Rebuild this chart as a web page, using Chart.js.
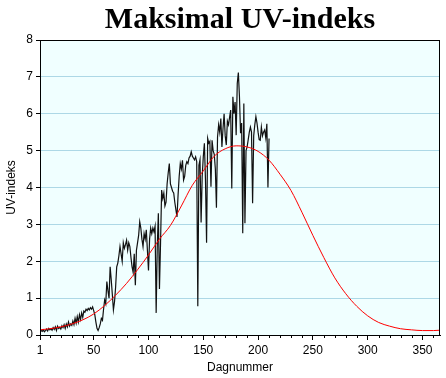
<!DOCTYPE html>
<html>
<head>
<meta charset="utf-8">
<script src="https://cdn.jsdelivr.net/npm/chart.js@4.4.0/dist/chart.umd.min.js"></script>
<style>
    body { margin: 0; background: #fff; }
    canvas { display: block; }
</style>
</head>
<body>
<canvas id="uvChart" width="446" height="378"></canvas>
<script>
// Målt maksimal UV-indeks, dag 1 til 210
var uvMaalt = [
    0.15, 0.12, 0.10, 0.14, 0.09, 0.12, 0.16, 0.11, 0.18, 0.14,
    0.17, 0.13, 0.20, 0.15, 0.22, 0.12, 0.24, 0.18, 0.21, 0.16,
    0.25, 0.20, 0.28, 0.18, 0.30, 0.22, 0.35, 0.24, 0.30, 0.26,
    0.38, 0.28, 0.45, 0.32, 0.50, 0.35, 0.55, 0.42, 0.60, 0.48,
    0.65, 0.62, 0.70, 0.66, 0.72, 0.68, 0.74, 0.70, 0.76, 0.66,
    0.55, 0.35, 0.18, 0.12, 0.20, 0.30, 0.45, 0.40, 0.70, 0.95,
    0.85, 1.45, 1.20, 1.00, 1.85, 1.50, 1.10, 0.68, 0.90, 1.30,
    1.85, 1.95, 2.15, 2.40, 2.20, 2.00, 2.50, 2.35, 2.45, 2.57,
    2.30, 2.50, 2.40, 2.10, 1.85, 1.70, 2.20, 1.35, 2.30, 2.50,
    2.70, 3.07, 2.90, 2.60, 2.40, 2.75, 2.60, 2.85, 2.30, 1.75,
    2.60, 2.90, 2.75, 2.90, 2.80, 2.95, 0.60, 2.40, 3.30, 1.25,
    2.50, 3.93, 3.70, 3.85, 3.50, 3.60, 4.10, 4.40, 4.65, 4.10,
    4.00, 3.90, 3.85, 3.60, 3.40, 3.20, 3.80, 4.30, 4.65, 4.50,
    4.74, 4.20, 4.30, 4.60, 4.70, 4.65, 4.80, 4.85, 4.97, 4.85,
    4.80, 4.75, 4.83, 4.70, 0.78, 4.60, 4.75, 3.05, 4.30, 4.83,
    5.20, 4.20, 2.50, 5.33, 5.20, 5.25, 4.02, 5.28, 5.00, 4.90,
    4.50, 3.45, 5.37, 5.70, 5.50, 5.87, 5.10, 5.60, 6.00, 5.40,
    5.15, 5.80, 5.70, 5.90, 6.10, 3.97, 6.46, 6.00, 6.32, 5.42,
    6.82, 7.12, 6.46, 5.47, 5.75, 2.76, 6.28, 3.03, 5.00, 5.10,
    5.30, 5.50, 5.64, 5.50, 3.57, 5.40, 5.70, 5.92, 5.75, 5.50,
    5.30, 5.28, 5.64, 5.40, 5.50, 5.56, 5.35, 5.73, 4.00, 5.33
];

// Modellkurve (rød), avlest omtrent hver tiende dag
var kurveDager = [1, 10, 20, 30, 40, 50, 60, 70, 80, 90, 100, 110, 120, 130, 140, 150, 160, 170, 180,
    190, 200, 210, 220, 230, 240, 250, 260, 270, 280, 290, 300, 310, 320, 330, 340, 350, 360, 366];
var kurveUV = [0.14, 0.17, 0.22, 0.30, 0.41, 0.57, 0.80, 1.08, 1.40, 1.77, 2.17, 2.60, 2.97, 3.50, 4.06, 4.45, 4.85, 5.05, 5.13,
    5.10, 4.98, 4.74, 4.36, 3.92, 3.33, 2.70, 2.10, 1.55, 1.12, 0.78, 0.52, 0.34, 0.24, 0.17, 0.14, 0.12, 0.12, 0.13];

var xTicks = [1, 50, 100, 150, 200, 250, 300, 350];

document.addEventListener('DOMContentLoaded', function () {
    var ctx = document.getElementById('uvChart').getContext('2d');

    var maalt = uvMaalt.map(function (v, i) { return { x: i + 1, y: v }; });
    var kurve = kurveDager.map(function (d, i) { return { x: d, y: kurveUV[i] }; });

    // bakgrunn, ramme og små streker på x-aksen
    var ramme = {
        id: 'ramme',
        beforeDraw: function (chart) {
            var a = chart.chartArea;
            var c = chart.ctx;
            c.save();
            c.fillStyle = '#F0FFFF';
            c.fillRect(a.left, a.top, a.right - a.left, a.bottom - a.top);
            c.restore();
        },
        afterDraw: function (chart) {
            var a = chart.chartArea;
            var c = chart.ctx;
            var sx = chart.scales.x;
            c.save();
            c.strokeStyle = '#000';
            c.lineWidth = 1;
            c.strokeRect(Math.round(a.left) + 0.5, Math.round(a.top) + 0.5,
                Math.round(a.right - a.left) - 1, Math.round(a.bottom - a.top));
            c.beginPath();
            for (var d = 10; d <= 360; d += 10) {
                if (d % 50 === 0) continue;
                var px = Math.round(sx.getPixelForValue(d)) + 0.5;
                c.moveTo(px, Math.round(a.bottom));
                c.lineTo(px, Math.round(a.bottom) + 3);
            }
            c.stroke();
            c.restore();
        }
    };

    Chart.defaults.font.family = "'Liberation Sans', Arial, sans-serif";
    Chart.defaults.font.size = 12;
    Chart.defaults.color = '#000';

    var chart = new Chart(ctx, {
        type: 'line',
        data: {
            datasets: [{
                label: 'Modell',
                data: kurve,
                borderColor: '#FF0000',
                borderWidth: 1,
                pointRadius: 0,
                cubicInterpolationMode: 'monotone',
                fill: false
            }, {
                label: 'Målt',
                data: maalt,
                borderColor: '#111111',
                borderWidth: 1.2,
                pointRadius: 0,
                tension: 0,
                fill: false
            }]
        },
        options: {
            responsive: false,
            animation: false,
            devicePixelRatio: 1,
            layout: {
                padding: { left: 0, right: 6, top: 0, bottom: 0 }
            },
            plugins: {
                legend: { display: false },
                tooltip: { enabled: false },
                title: {
                    display: true,
                    fullSize: false,
                    text: 'Maksimal UV-indeks',
                    align: 'center',
                    color: '#000',
                    padding: { top: 2, bottom: 2 },
                    font: {
                        family: "'Liberation Serif', 'Times New Roman', serif",
                        size: 30,
                        weight: 'bold'
                    }
                }
            },
            scales: {
                x: {
                    type: 'linear',
                    min: 1,
                    max: 366,
                    afterBuildTicks: function (scale) {
                        scale.ticks = xTicks.map(function (v) { return { value: v }; });
                    },
                    afterFit: function (scale) { scale.height = 43; },
                    ticks: {
                        autoSkip: false,
                        maxRotation: 0,
                        padding: 3,
                        callback: function (v) { return String(v); }
                    },
                    grid: {
                        drawOnChartArea: false,
                        tickLength: 5,
                        tickColor: '#000'
                    },
                    border: { color: '#000' },
                    title: {
                        display: true,
                        text: 'Dagnummer',
                        padding: { top: 0, bottom: 3 }
                    }
                },
                y: {
                    min: 0,
                    max: 8,
                    afterFit: function (scale) { scale.width = 40; },
                    ticks: {
                        stepSize: 1,
                        padding: 3
                    },
                    grid: {
                        color: '#ADD8E6',
                        tickColor: '#000',
                        tickLength: 4
                    },
                    border: { color: '#000' },
                    title: {
                        display: true,
                        text: 'UV-indeks',
                        padding: { top: 4, bottom: 0 }
                    }
                }
            }
        },
        plugins: [ramme]
    });
});
</script>
</body>
</html>
